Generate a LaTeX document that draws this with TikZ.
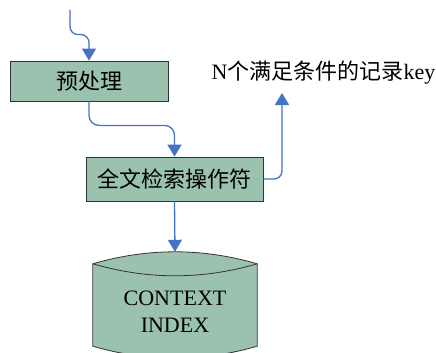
\documentclass[tikz,border=0pt]{standalone}
\usepackage{fontspec}
\setmainfont{Liberation Serif}
\newfontfamily\cjk{Noto Sans CJK SC}
\usetikzlibrary{arrows.meta,calc,backgrounds}
\definecolor{boxgreen}{HTML}{9BC1AF}
\definecolor{flowblue}{HTML}{4472C4}

\begin{document}
\begin{tikzpicture}[x=1pt,y=-1pt,font=\fontsize{22}{27}\selectfont]
\tikzstyle{every node}+=[inner sep=0pt]
\tikzstyle{box}=[draw=black!80,fill=boxgreen,line width=0.8pt]
\tikzstyle{flow}=[draw=flowblue,line width=1.3pt,-{Triangle[width=14pt,length=12pt]}]
\clip (0,0) rectangle (436,353);
\node [box,minimum width=158pt,minimum height=40pt] (pre) at (89,81) {\cjk 预处理};
\node [box,minimum width=177pt,minimum height=44pt] (op) at (174.5,179) {\cjk 全文检索操作符};
\node (keys) at (323.5,73) {N{\cjk 个满足条件的记录}key};
\node [minimum width=164pt,minimum height=119pt,align=center] (idx) at (175,311.5) {CONTEXT\\INDEX};
\coordinate (in) at (70,10);
\coordinate (keyin) at (282,93);
% the index drum
\begin{scope}[on background layer]
\path [box] ($(idx.north west)+(0,12)$) .. controls ($(idx.north west)+(55,-4)$) and ($(idx.north east)+(-55,-4)$) .. ($(idx.north east)+(0,12)$)
  -- ($(idx.south east)+(0,-25)$) .. controls ($(idx.south east)+(-55,-9)$) and ($(idx.south west)+(55,-9)$) .. ($(idx.south west)+(0,-25)$) -- cycle;
\draw [black!80,line width=0.8pt] ($(idx.north west)+(0,12)$) .. controls ($(idx.north west)+(55,28)$) and ($(idx.north east)+(-55,28)$) .. ($(idx.north east)+(0,12)$);
\end{scope}
% connectors
\draw [flow,rounded corners=8pt] (in) |- ($(pre.north)+(0,-26)$) -- (pre.north);
\draw [flow,rounded corners=10pt] (pre.south) -- ++(0,24) -| (op.north);
\draw [flow,rounded corners=8pt] (op.east) -| (keyin);
\draw [flow] (op.south) -- (idx.north);
\end{tikzpicture}
\end{document}
